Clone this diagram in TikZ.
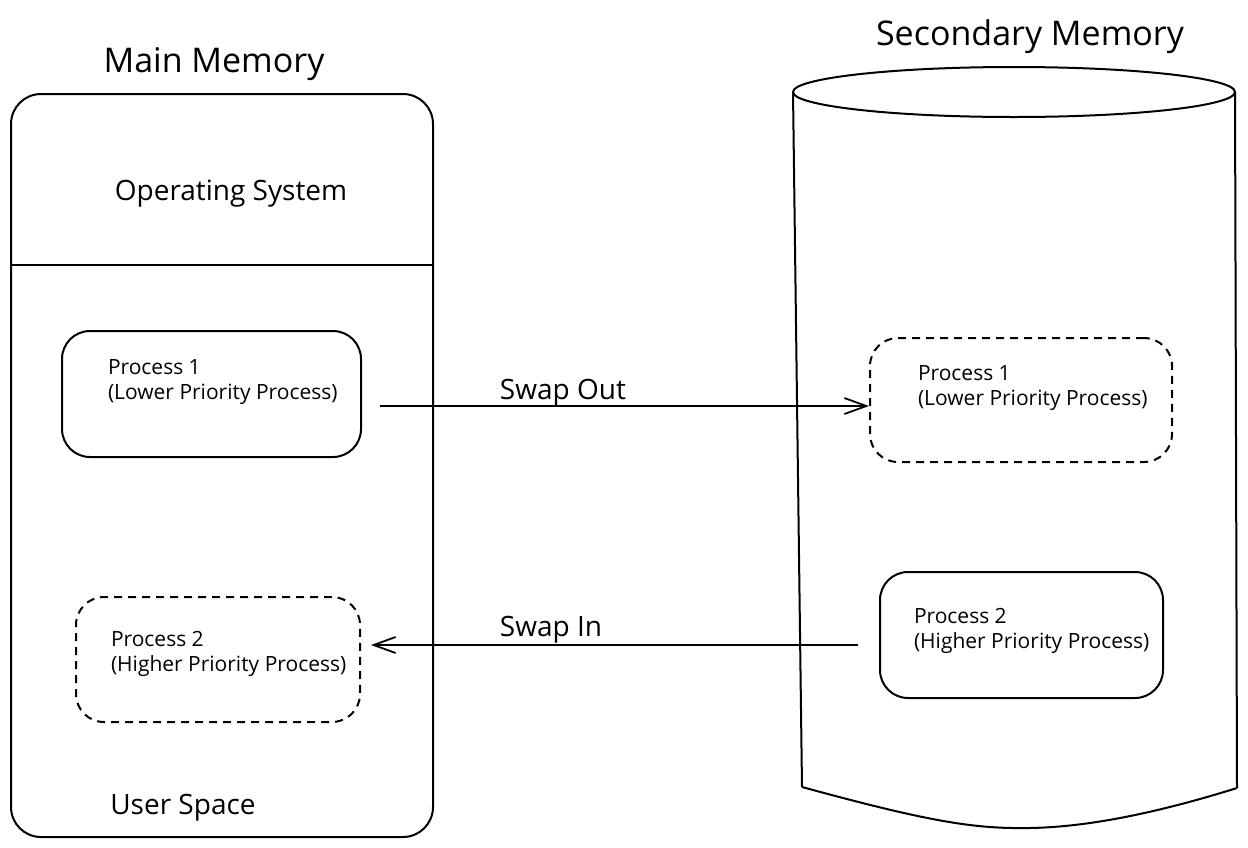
\documentclass[tikz,border=0pt]{standalone}
\usepackage{fontspec}
\setmainfont{Open Sans}
\usetikzlibrary{arrows.meta}
\begin{document}
\begin{tikzpicture}[x=1pt,y=-1pt,
  line width=2pt,
  memory/.style={draw, rounded corners=30pt, inner sep=0pt},
  procbox/.style={draw, rounded corners=28pt, inner sep=0pt},
  dprocbox/.style={procbox, dash pattern=on 8pt off 6pt},
  title/.style={font=\fontsize{34}{40}\selectfont},
  lbl/.style={font=\fontsize{28}{34}\selectfont},
  ptext/.style={anchor=west, align=left, inner sep=0pt, font=\fontsize{21}{25}\selectfont},
  swap/.style={-{Straight Barb[length=22pt,width=16pt,line width=1.8pt]}, line width=1.8pt}
]
\useasboundingbox (0,0) rectangle (1248,847);
\fill[white] (0,0) rectangle (1248,847);

% Main memory
\node[memory, minimum width=422pt, minimum height=743pt] (mm) at (222,465.5) {};
\coordinate (osl) at (11,265);
\coordinate (osr) at (432,265);
\draw (osl) -- (osr);
\node[title] (mmt) at (214,64) {Main Memory};
\node[lbl] (os) at (231,194) {Operating System};
\node[lbl] (us) at (183,808) {User Space};

% Secondary memory cylinder
\coordinate (ctl) at (793,92);
\coordinate (ctr) at (1235,92);
\coordinate (cbl) at (802,787);
\coordinate (cbr) at (1237,788);
\draw (1014,92) ellipse [x radius=221pt, y radius=25pt];
\draw (ctl) -- (cbl);
\draw (ctr) -- (cbr);
\draw (cbl) .. controls (930,822) and (975,829) .. (1030,828)
            .. controls (1090,827) and (1160,812) .. (cbr);
\node[title] (smt) at (1030,37) {Secondary Memory};

% Process boxes
\node[procbox, minimum width=299pt, minimum height=126pt] (p1m) at (211.5,394) {};
\node[ptext] (p1mt) at (107,382) {Process 1\\(Lower Priority Process)};

\node[dprocbox, minimum width=284pt, minimum height=125pt] (p2m) at (218,659.5) {};
\node[ptext] (p2mt) at (110,654) {Process 2\\(Higher Priority Process)};

\node[dprocbox, minimum width=302pt, minimum height=124pt] (p1s) at (1021,400) {};
\node[ptext] (p1st) at (917,388.5) {Process 1\\(Lower Priority Process)};

\node[procbox, minimum width=283pt, minimum height=126pt] (p2s) at (1021.5,635) {};
\node[ptext] (p2st) at (913,630.5) {Process 2\\(Higher Priority Process)};

% Swap arrows
\coordinate (soa) at (380,406);
\coordinate (sia) at (858,645);
\draw[swap] (soa) -- (p1s.west |- soa);
\draw[swap] (sia) -- ([xshift=10pt]p2m.east |- sia);
\node[lbl] (sol) at (563,393) {Swap Out};
\node[lbl] (sil) at (551,630) {Swap In};
\end{tikzpicture}
\end{document}
